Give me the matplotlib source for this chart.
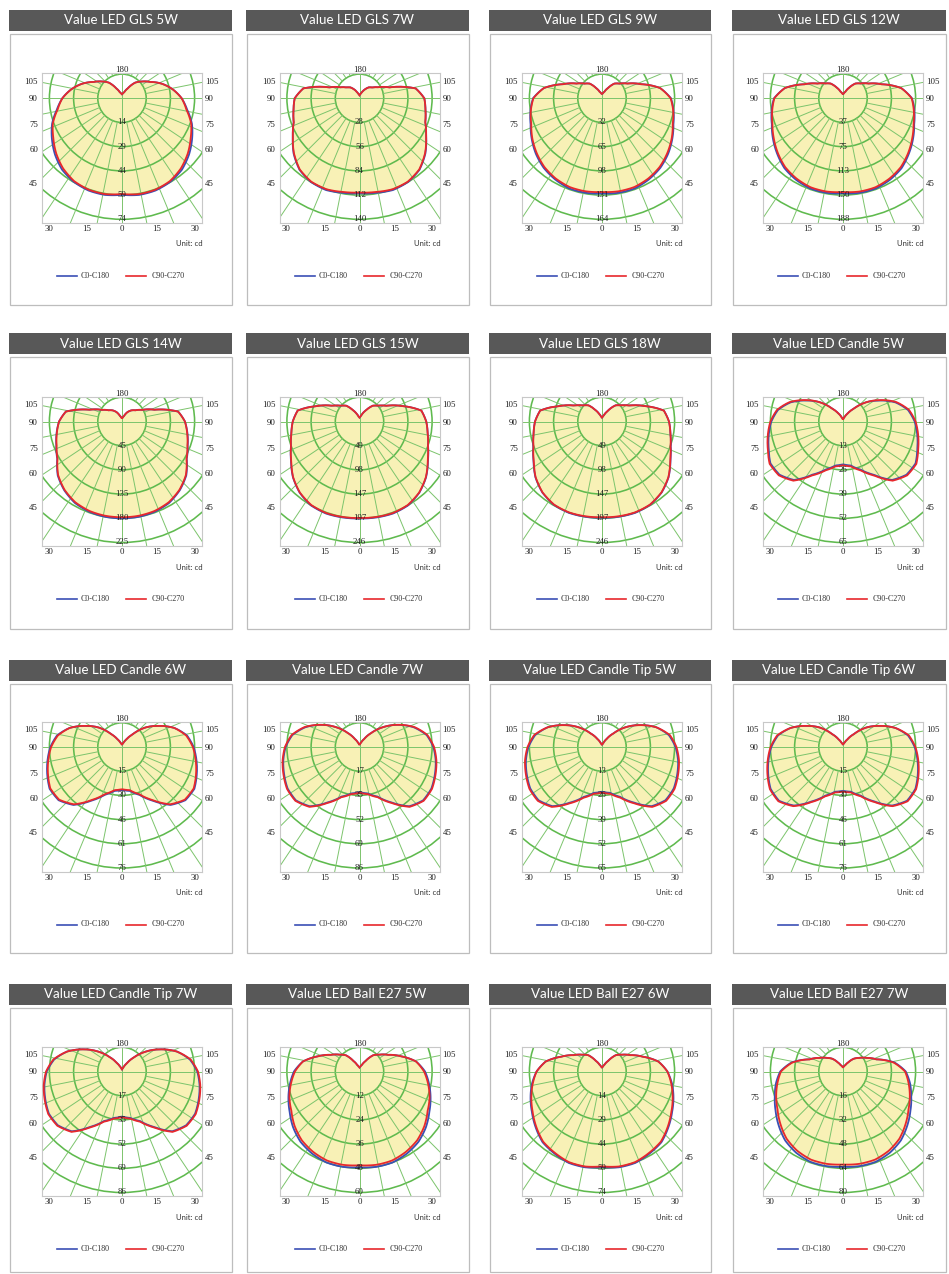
import numpy as np
import matplotlib.pyplot as plt
from matplotlib.patches import Rectangle, Circle, PathPatch
from matplotlib.path import Path
from matplotlib.lines import Line2D

W, H = 949, 1274

titles = [
    "Value LED GLS 5W", "Value LED GLS 7W", "Value LED GLS 9W", "Value LED GLS 12W",
    "Value LED GLS 14W", "Value LED GLS 15W", "Value LED GLS 18W", "Value LED Candle 5W",
    "Value LED Candle 6W", "Value LED Candle 7W", "Value LED Candle Tip 5W", "Value LED Candle Tip 6W",
    "Value LED Candle Tip 7W", "Value LED Ball E27 5W", "Value LED Ball E27 6W", "Value LED Ball E27 7W",
]

# outer ring value of each diagram (cd) and the printed ring labels
ring_max = [74, 140, 164, 188.5, 225, 246.5, 246.5, 65, 76, 86, 65, 76, 86, 60, 74, 80]
ring_labels = [
    [14, 29, 44, 59, 74], [28, 56, 84, 112, 140], [32, 65, 98, 131, 164], [37, 75, 113, 150, 188],
    [45, 90, 135, 180, 225], [49, 98, 147, 197, 246], [49, 98, 147, 197, 246], [13, 26, 39, 52, 65],
    [15, 30, 46, 61, 76], [17, 35, 52, 69, 86], [13, 26, 39, 52, 65], [15, 30, 46, 61, 76],
    [17, 35, 52, 69, 86], [12, 24, 36, 48, 60], [14, 29, 44, 59, 74], [16, 32, 48, 64, 80],
]
side_ticks = [105, 90, 75, 60, 45]
bottom_ticks = [30, 15, 0, 15, 30]

# gamma angles (0 = down, 180 = up)
gamma = np.arange(0, 181, 10)

# intensities in cd, C0-C180 (blue) and C90-C270 (red)
gls5_c0 = [59, 60, 60, 59, 57, 53.5, 49.5, 45.5, 40.5, 36.5, 31.5, 26, 20, 16, 12.5, 7, 4, 3, 2.5]
gls5_c90 = [58.5, 59.5, 59.5, 58.5, 56, 52.5, 48.5, 45, 40, 36.5, 31.5, 26, 20, 16, 12.5, 7, 4, 3, 2.5]
gls7_c0 = [110, 111, 113, 112, 108, 99.5, 89, 81, 77.5, 75, 66, 37, 25.5, 19.5, 16.5, 11.5, 7, 4.5, 3.5]
gls7_c90 = [109, 110, 112, 111.5, 107.5, 99, 89, 81, 77.5, 75, 66, 37, 25.5, 19.5, 16.5, 11.5, 7, 4.5, 3.5]
gls9_c0 = [129, 130, 130, 127, 123, 117, 110, 103, 98.5, 93.5, 80, 56, 40, 31, 26, 16, 9.5, 7, 5.5]
gls9_c90 = [127, 128, 128, 125.5, 121.5, 115.5, 109, 102, 98, 93, 80, 56, 40, 31, 26, 16, 9.5, 7, 5.5]
gls12_c0 = [148, 149.5, 149.5, 146.5, 142, 134, 126, 118, 113, 107.5, 92, 64, 46, 36, 30, 19, 11, 8, 6]
gls12_c90 = [146, 147.5, 147.5, 144.5, 140, 132.5, 124.5, 117, 112, 107, 92, 64, 46, 36, 30, 19, 11, 8, 6]
gls14_c0 = [180, 180, 178.5, 175, 167, 156, 139, 130, 123.5, 117, 106, 64, 43, 32.5, 27, 20, 11, 7.5, 5.5]
gls14_c90 = [178, 178, 177, 173.5, 166, 155, 138.5, 129.5, 123, 117, 106, 64, 43, 32.5, 27, 20, 11, 7.5, 5.5]
gls15_c0 = [197.5, 198.5, 199.5, 197.5, 189.5, 177, 161, 148.5, 141, 136, 128, 92, 64, 50, 42, 26.5, 16.5, 10, 8]
gls15_c90 = [196.5, 197.5, 198.5, 196.5, 189, 176.5, 160.5, 148.5, 141, 136, 128, 92, 64, 50, 42, 26.5, 16.5, 10, 8]
gls18_c0 = [196, 197, 198, 196, 189, 177, 161, 149, 141.5, 136.5, 128, 92, 65, 51, 43, 27, 16, 10, 8]
gls18_c90 = [195, 196, 197, 195.5, 188.5, 176.5, 160.5, 148.5, 141.5, 136.5, 128, 92, 65, 51, 43, 27, 16, 10, 8]
candle5_c0 = [23, 24, 27.5, 33, 41, 44.5, 45, 42.5, 40.5, 38.5, 35.5, 30, 22.5, 16, 9, 5, 2.7, 1.6, 1]
candle5_c90 = [23.5, 24.5, 28, 33.5, 41.5, 45, 45.5, 43, 41, 39, 36, 30.5, 23, 16, 9, 5, 2.7, 1.6, 1]
candle6_c0 = [27, 28, 32, 39, 47.5, 52, 52.5, 50, 47.5, 45, 41.5, 35, 26.5, 19, 10.5, 5.5, 3, 2, 1.3]
candle6_c90 = [26.5, 27.5, 31.5, 38.5, 47, 51.5, 52, 49.5, 47, 44.5, 41, 35, 26.5, 19, 10.5, 5.5, 3, 2, 1.3]
candle7_c0 = [32, 33.5, 37.5, 45.5, 55, 59, 59, 57, 55, 52.5, 48.5, 41, 31.5, 22, 13, 6.5, 3.5, 2, 1.5]
candle7_c90 = [32.5, 34, 38, 46, 55.5, 59.5, 59.5, 57.5, 55.5, 53, 49, 41.5, 31.5, 22, 13, 6.5, 3.5, 2, 1.5]
tip5_c0 = [24, 25, 28.5, 34.5, 41.5, 44.5, 44.5, 43, 41.5, 39.5, 36.5, 31, 23.5, 16.5, 9.5, 5, 2.5, 1.5, 1]
tip5_c90 = [24.5, 25.5, 29, 35, 42, 45, 45, 43.5, 42, 40, 37, 31, 23.5, 16.5, 9.5, 5, 2.5, 1.5, 1]
tip6_c0 = [27.5, 28.5, 32.5, 39.5, 48, 52.5, 52.5, 50, 47.5, 45, 41.5, 35, 26.5, 19, 10.5, 5.5, 3, 2, 1.3]
tip6_c90 = [28, 29, 33, 40, 48.5, 53, 53, 50.5, 48, 45.5, 42, 35, 26.5, 19, 10.5, 5.5, 3, 2, 1.3]
tip7_c0 = [32, 33.5, 37.5, 45.5, 55.5, 59.5, 60, 58, 56, 53.5, 49, 41.5, 31.5, 22, 13, 6.5, 3.5, 2, 1.5]
tip7_c90 = [32.5, 34, 38, 46, 56, 60, 60.5, 58.5, 56.5, 54, 49.5, 41.5, 31.5, 22, 13, 6.5, 3.5, 2, 1.5]
ball5_c0 = [47.5, 48, 48, 47, 45.5, 43, 40, 37.5, 35, 32.5, 28.5, 22, 16.5, 13, 10.5, 6, 3.5, 2.5, 2]
ball5_c90 = [46.5, 47, 47, 46, 44.5, 42, 39, 37, 34.5, 32, 28.5, 22, 16.5, 13, 10.5, 6, 3.5, 2.5, 2]
ball6_c0 = [58.5, 59.5, 59.5, 58, 56.5, 53, 49.5, 46.5, 43.5, 40, 35, 26.5, 20, 16, 13, 7.5, 4.5, 3, 2.5]
ball6_c90 = [58, 59, 59, 57.5, 56, 52.5, 49, 46, 43, 40, 35, 26.5, 20, 16, 13, 7.5, 4.5, 3, 2.5]
ball7_c0 = [63, 63.5, 63.5, 62, 59.5, 55.5, 51.5, 48, 45, 41.5, 34.5, 23.5, 18, 14, 11, 7, 4.5, 3.5, 2.5]
ball7_c90 = [61.5, 62, 62, 60.5, 58, 54, 50, 47, 44, 41, 34, 23.5, 18, 14, 11, 7, 4.5, 3.5, 2.5]

curves = [
    (gls5_c0, gls5_c90), (gls7_c0, gls7_c90), (gls9_c0, gls9_c90), (gls12_c0, gls12_c90),
    (gls14_c0, gls14_c90), (gls15_c0, gls15_c90), (gls18_c0, gls18_c90), (candle5_c0, candle5_c90),
    (candle6_c0, candle6_c90), (candle7_c0, candle7_c90), (tip5_c0, tip5_c90), (tip6_c0, tip6_c90),
    (tip7_c0, tip7_c90), (ball5_c0, ball5_c90), (ball6_c0, ball6_c90), (ball7_c0, ball7_c90),
]

# panel layout in pixels
col_x = [9, 246, 489, 732]
col_w = [223, 223, 222, 214]
row_y = [10, 333, 660, 984]
box_bottom = [305, 629, 953, 1272]
center_x = [122, 359.5, 602, 843]
center_y = [98.3, 421.5, 747, 1071.5]
R_PX = 121  # pixel radius of the outer ring
side_dy = [-16.5, 1, 27, 52, 86]          # label offsets below centre, px
bottom_dx = [-73, -35, 0, 35, 73]

GREEN_RING = "#5fba4e"
GREEN_RAY = "#7cc46c"
BLUE = "#3b4fb5"
RED = "#e8282c"
FILL = "#f8f1b6"
NUM_FONT = "Liberation Serif"


def frect(x0, y0, w, h):
    return [x0 / W, 1 - (y0 + h) / H, w / W, h / H]


def fpt(x, y):
    return x / W, 1 - y / H


def polar_axes(cx, cy, mx, z):
    pa = fig.add_axes(frect(cx - R_PX, cy - R_PX, 2 * R_PX, 2 * R_PX), projection="polar")
    pa.set_theta_zero_location("S")
    pa.set_axis_off()
    pa.set_zorder(z)
    pa.set_ylim(0, mx)
    pa.set_autoscale_on(False)
    return pa


def polar_path(vals):
    # right half: C0 / C90, left half: C180 / C270 (mirrored)
    th = np.deg2rad(np.r_[gamma, 360 - gamma[-2:0:-1], 360])
    rr = np.r_[vals, vals[-2:0:-1], vals[0]]
    return Path(np.column_stack([th, rr]), _interpolation_steps=16)


fig = plt.figure(figsize=(W / 100, H / 100), dpi=100)
fig.patch.set_facecolor("white")

for i, title in enumerate(titles):
    r, c = divmod(i, 4)
    x0, w, y0 = col_x[c], col_w[c], row_y[r]
    cx, cy = center_x[c], center_y[r]
    mx = ring_max[i]
    k = mx / R_PX  # cd per pixel
    blue, red = curves[i]

    # header + frame
    fig.add_artist(Rectangle(fpt(x0, y0 + 21), w / W, 21 / H, transform=fig.transFigure,
                             facecolor="#585858", edgecolor="none"))
    fig.text(*fpt(x0 + w / 2, y0 + 10.5), title, ha="center", va="center",
             color="white", fontsize=9.6, family="Lato")
    fig.add_artist(Rectangle(fpt(x0 + 0.5, box_bottom[r]), (w - 1) / W,
                             (box_bottom[r] - y0 - 23.5) / H, transform=fig.transFigure,
                             fill=False, edgecolor="#bdbdbd", linewidth=0.9))

    # yellow area (below the grid)
    pfill = polar_axes(cx, cy, mx, 1)
    pfill.add_patch(PathPatch(polar_path(np.maximum(blue, red)), facecolor=FILL,
                              edgecolor="none"))

    # grid box
    ax = fig.add_axes(frect(cx - 80, cy - 25, 160, 149.5))
    ax.set_zorder(2)
    ax.patch.set_visible(False)
    ax.set_xlim(-80 * k, 80 * k)
    ax.set_ylim(-124.5 * k, 25 * k)
    ax.set_xticks([])
    ax.set_yticks([])
    for sp in ax.spines.values():
        sp.set_color("#c8c8c8")
        sp.set_linewidth(0.8)

    step = mx / 5
    for n in range(1, 6):
        ax.add_patch(Circle((0, 0), n * step, fill=False, edgecolor=GREEN_RING, linewidth=1.15))
    far = 3 * mx
    for a in np.arange(0, 360, 11.25):
        t = np.deg2rad(a)
        start = 0 if a % 90 == 0 else step
        ax.plot([start * np.sin(t), far * np.sin(t)], [-start * np.cos(t), -far * np.cos(t)],
                color=GREEN_RAY, linewidth=0.7)

    # curves on top
    pline = polar_axes(cx, cy, mx, 3)
    pline.add_patch(PathPatch(polar_path(blue), fill=False, edgecolor=BLUE, linewidth=1.3))
    pline.add_patch(PathPatch(polar_path(red), fill=False, edgecolor=RED, linewidth=1.3))

    # labels (top layer)
    lab = dict(fontsize=6.3, family=NUM_FONT, clip_on=False, zorder=10, color="#1e1e1e")
    for n, txt in enumerate(ring_labels[i], start=1):
        pline.text(0, n * step, str(txt), ha="center", va="center", **lab)
    ax.text(0, 28 * k, "180", ha="center", va="center", **lab)
    for dx, txt in zip(bottom_dx, bottom_ticks):
        ax.text(dx * k, -130.7 * k, str(txt), ha="center", va="center", **lab)
    for dy, txt in zip(side_dy, side_ticks):
        ax.text(-84 * k, -dy * k, str(txt), ha="right", va="center", **lab)
        ax.text(83 * k, -dy * k, str(txt), ha="left", va="center", **lab)

    fig.text(*fpt(cx + 81, cy + 145.5), "Unit: cd", ha="right", va="center",
             fontsize=5.6, family="Lato", color="#333333")

    # legend
    ly = cy + 177.5
    fig.add_artist(Line2D([(cx - 65) / W, (cx - 45) / W], [1 - ly / H] * 2,
                          transform=fig.transFigure, color=BLUE, linewidth=1.2))
    fig.text(*fpt(cx - 41, ly), "C0-C180", ha="left", va="center",
             fontsize=5.8, family=NUM_FONT, color="#333333")
    fig.add_artist(Line2D([(cx + 4) / W, (cx + 24) / W], [1 - ly / H] * 2,
                          transform=fig.transFigure, color=RED, linewidth=1.2))
    fig.text(*fpt(cx + 30, ly), "C90-C270", ha="left", va="center",
             fontsize=5.8, family=NUM_FONT, color="#333333")

fig.savefig("out.png", dpi=100, facecolor="white")
